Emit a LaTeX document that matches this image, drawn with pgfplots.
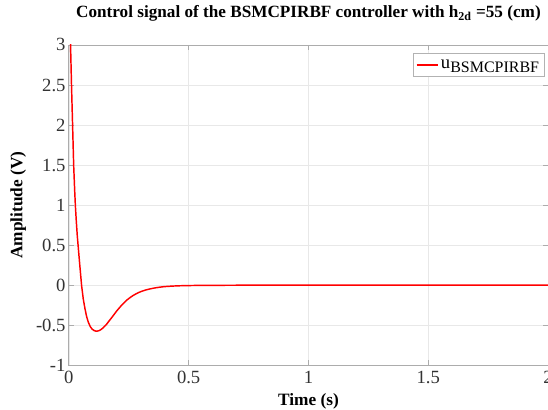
\documentclass[border=0pt]{standalone}
\usepackage{pgfplots}
\pgfplotsset{compat=1.18}
\usepackage{fontspec}
\setmainfont{Liberation Serif}
\begin{document}
\begin{tikzpicture}
\begin{axis}[
  name=ax,
  scale only axis,
  width=360pt, height=240.75pt,
  xmin=0, xmax=2, ymin=-1, ymax=3,
  xtick={0,0.5,1,1.5,2},
  ytick={-1,-0.5,0,0.5,1,1.5,2,2.5,3},
  grid=major,
  major grid style={gray!18, line width=0.5pt},
  axis line style={gray!65, line width=0.6pt},
  tick style={gray!65, line width=0.6pt},
  tick align=inside,
  major tick length=4pt,
  /pgf/number format/assume math mode=true,
  tick label style={font=\fontsize{14}{16}\selectfont, text=black!80},
  xticklabel style={yshift=-1pt},
  yticklabel style={xshift=1pt},
  title={Control signal of the BSMCPIRBF controller with h\textsubscript{2d} =55 (cm)},
  title style={font=\bfseries\fontsize{12.9}{14}\selectfont, at={(axis description cs:0.5,1)}, anchor=south, yshift=8pt},
  xlabel={Time (s)},
  ylabel={Amplitude (V)},
  xlabel style={font=\bfseries\fontsize{13}{15}\selectfont, at={(axis description cs:0.5,0)}, anchor=center, yshift=-27pt},
  ylabel style={font=\bfseries\fontsize{13}{15}\selectfont, at={(axis description cs:-0.1055,0.5)}, anchor=center},
  legend style={at={(axis description cs:0.993,0.976)}, anchor=north east,
    draw=gray!60, fill=white, font=\fontsize{14}{16}\selectfont,
    inner xsep=2pt, inner ysep=3pt},
  legend cell align=left,
  legend image code/.code={\draw[#1] (0cm,0cm) -- (0.55cm,0cm);},
]
\addplot[red, line width=1.1pt] coordinates {
  (0,3.65) (0.004,3.33) (0.007,3.0) (0.011,2.5) (0.0155,2.0) (0.02,1.5)
  (0.024,1.2) (0.027,1.0) (0.031,0.8) (0.035,0.62) (0.039,0.48)
  (0.045,0.27) (0.053,0.0) (0.06,-0.17) (0.067,-0.29) (0.074,-0.39)
  (0.081,-0.46) (0.089,-0.515) (0.097,-0.548) (0.105,-0.565) (0.112,-0.572)
  (0.118,-0.573) (0.125,-0.568) (0.133,-0.555) (0.142,-0.535) (0.15,-0.51)
  (0.158,-0.485) (0.168,-0.445) (0.18,-0.40) (0.19,-0.36) (0.2,-0.32)
  (0.21,-0.285) (0.22,-0.25) (0.23,-0.22) (0.24,-0.19) (0.255,-0.155)
  (0.27,-0.125) (0.285,-0.1) (0.3,-0.08) (0.32,-0.06) (0.34,-0.045)
  (0.36,-0.033) (0.38,-0.024) (0.4,-0.017) (0.43,-0.011) (0.46,-0.007)
  (0.5,-0.004) (0.55,-0.002) (0.6,-0.001) (0.7,0) (0.8,0) (1,0) (1.5,0) (2,0)
};
\addlegendentry{u\raisebox{-0.5ex}{\fontsize{12}{13}\selectfont BSMCPIRBF}}
\end{axis}
\pgfresetboundingbox
\path[use as bounding box] ([xshift=-51.75pt,yshift=-33pt]ax.south west) rectangle ([yshift=33.75pt]ax.north east);
\end{tikzpicture}
\end{document}
